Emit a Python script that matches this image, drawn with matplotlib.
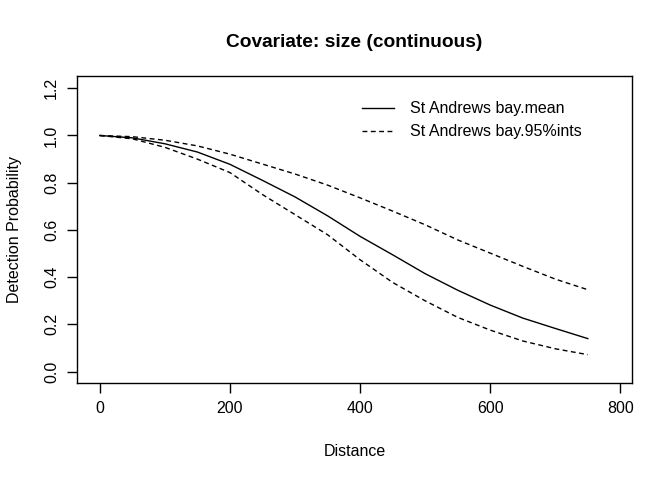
import numpy as np
import matplotlib
matplotlib.use('Agg')
import matplotlib.pyplot as plt

# data
distance = [0, 50, 100, 150, 200, 250, 300, 350, 400, 450, 500, 550, 600, 650, 700, 750]
p_mean = [1.0, 0.99, 0.965, 0.93, 0.878, 0.81, 0.74, 0.66, 0.573, 0.495, 0.415, 0.345, 0.282, 0.227, 0.183, 0.14]
p_upper = [1.0, 0.995, 0.98, 0.956, 0.921, 0.879, 0.837, 0.79, 0.736, 0.68, 0.622, 0.558, 0.502, 0.446, 0.392, 0.347]
p_lower = [1.0, 0.986, 0.95, 0.9, 0.843, 0.75, 0.665, 0.58, 0.474, 0.378, 0.3, 0.23, 0.176, 0.13, 0.097, 0.072]
xticks = [0, 200, 400, 600, 800]
yticks = [0.0, 0.2, 0.4, 0.6, 0.8, 1.0, 1.2]

plt.rcParams['font.family'] = ['Liberation Sans', 'DejaVu Sans']
fs = 11.5

fig = plt.figure(figsize=(6.72, 4.8), dpi=100)
ax = fig.add_axes([0.1146, 0.2021, 0.8259, 0.6396])

ax.plot(distance, p_mean, color='k', lw=1, label='St Andrews bay.mean')
ax.plot(distance, p_upper, color='k', lw=1, ls=(0, (3.5, 2.5)), label='St Andrews bay.95%ints')
ax.plot(distance, p_lower, color='k', lw=1, ls=(0, (3.5, 2.5)))

ax.set_xlim(-35, 818)
ax.set_ylim(-0.048, 1.252)
ax.set_xticks(xticks)
ax.set_xticklabels([str(v) for v in xticks], fontsize=fs)
ax.set_yticks(yticks)
ax.set_yticklabels(['%.1f' % v for v in yticks], fontsize=fs, rotation=90, va='center')
ax.tick_params(direction='out', length=7, width=1, pad=6)
for s in ax.spines.values():
    s.set_linewidth(1)

ax.set_xlabel('Distance', fontsize=fs, labelpad=20)
ax.set_ylabel('Detection Probability', fontsize=fs, labelpad=16)
ax.set_title('Covariate: size (continuous)', fontsize=13.8, fontweight='bold', pad=21)

ax.legend(loc='upper left', bbox_to_anchor=(0.488, 0.965), frameon=False, fontsize=fs,
          handlelength=2.0, handletextpad=1.0, labelspacing=0.5)

fig.savefig('out.png', dpi=100)
